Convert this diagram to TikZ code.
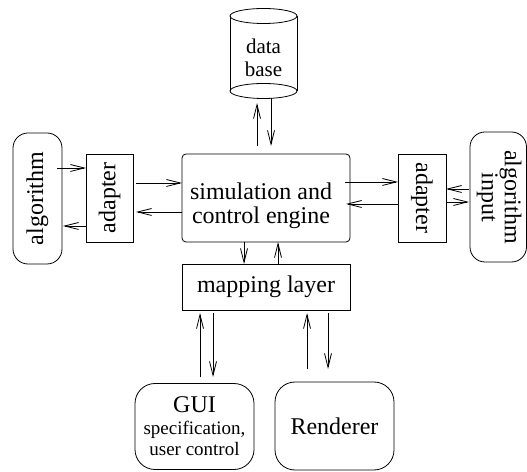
\documentclass[tikz,border=0pt]{standalone}
\usepackage{fontspec}
\setmainfont{Liberation Serif}
\usetikzlibrary{arrows.meta,calc}
\begin{document}
\begin{tikzpicture}[x=1pt,y=1pt,
  every node/.style={inner sep=0pt, outer sep=0pt},
  lw/.style={line width=0.8pt},
  box/.style={draw, lw, font=\fontsize{24}{24}\selectfont, align=center},
  arr/.style={lw, -{Straight Barb[length=14pt,width=7pt,line width=0.8pt]}},
]
\useasboundingbox (0,0) rectangle (527,471);

% data base cylinder
\draw[lw] (230,455) -- (230,380) (297,380) -- (297,455);
\draw[lw] (263.5,455) ellipse[x radius=33.5,y radius=7.5];
\draw[lw] (263.5,380) ellipse[x radius=33.5,y radius=7.5];
\node[minimum width=67, minimum height=81, align=center,
      font=\fontsize{21}{23}\selectfont] (db) at (263.5,413) {data\\base};

% boxes
\node[box, rounded corners=4pt, minimum width=168, minimum height=88] (sim) at (266,273) {};
\node[font=\fontsize{24}{24}\selectfont, align=center] (simtext) at (261,265) {simulation and\\control engine};
\node[box, minimum width=47, minimum height=88] (la) at (109.5,273) {\rotatebox{90}{adapter}};
\node[box, minimum width=48, minimum height=88] (ra) at (422,273) {\rotatebox{-90}{adapter}};
\node[box, rounded corners=15pt, minimum width=49, minimum height=131] (alg) at (37.5,272.5) {\rotatebox{90}{algorithm}};
\node[box, rounded corners=15pt, minimum width=56.5, minimum height=130] (inp) at (498.25,274)
  {\rotatebox{-90}{\fontsize{24}{23}\selectfont\begin{tabular}{@{}c@{}}algorithm\\input\end{tabular}}};
\node[box, minimum width=168, minimum height=46] (map) at (266,184) {mapping layer};
\node[box, rounded corners=20pt, minimum width=119, minimum height=86,
      font=\fontsize{19}{21.5}\selectfont] (gui) at (194.5,44.5)
  {{\fontsize{24}{21.5}\selectfont GUI}\\specification,\\user control};
\node[box, rounded corners=20pt, minimum width=119, minimum height=88] (ren) at (334.5,45) {Renderer};

% connectors
\draw[arr] ($(sim.north)+(-9,8)$) -- ($(db.south)+(-6.5,-4.5)$);
\draw[arr] ($(db.south)+(7.5,0)$) -- ($(sim.north)+(5,8)$);

\draw[arr] ($(alg.east)+(-5,30.5)$) -- ($(la.west)+(0,30)$);
\draw[arr] ($(la.west)+(0,-28)$) -- ($(alg.east)+(1,-27.5)$);
\draw[arr] ($(la.east)+(3,15)$) -- ($(sim.west)+(0,15)$);
\draw[arr] ($(sim.west)+(0,-14)$) -- ($(la.east)+(3,-14)$);

\draw[arr] ($(sim.east)+(-5,16)$) -- ($(ra.west)+(0,16)$);
\draw[arr] ($(ra.west)+(0,-6)$) -- ($(sim.east)+(-4,-6)$);
\draw[arr] ($(inp.west)+(-1,8)$) -- ($(ra.east)+(0,9)$);
\draw[arr] ($(ra.east)+(0,-4)$) -- ($(inp.west)+(-1,-5)$);

\draw[arr] ($(sim.south)+(-22,0)$) -- ($(map.north)+(-22,0)$);
\draw[arr] ($(map.north)+(12,0)$) -- ($(sim.south)+(12,0)$);

\draw[arr] ($(gui.north)+(5.5,6.5)$) -- ($(map.south)+(-66,-3)$);
\draw[arr] ($(map.south)+(-53,-3)$) -- ($(gui.north)+(18.5,6.5)$);
\draw[arr] ($(ren.north)+(-27.5,13)$) -- ($(map.south)+(41,-3)$);
\draw[arr] ($(map.south)+(62,-3)$) -- ($(ren.north)+(-6.5,13)$);
\end{tikzpicture}
\end{document}
